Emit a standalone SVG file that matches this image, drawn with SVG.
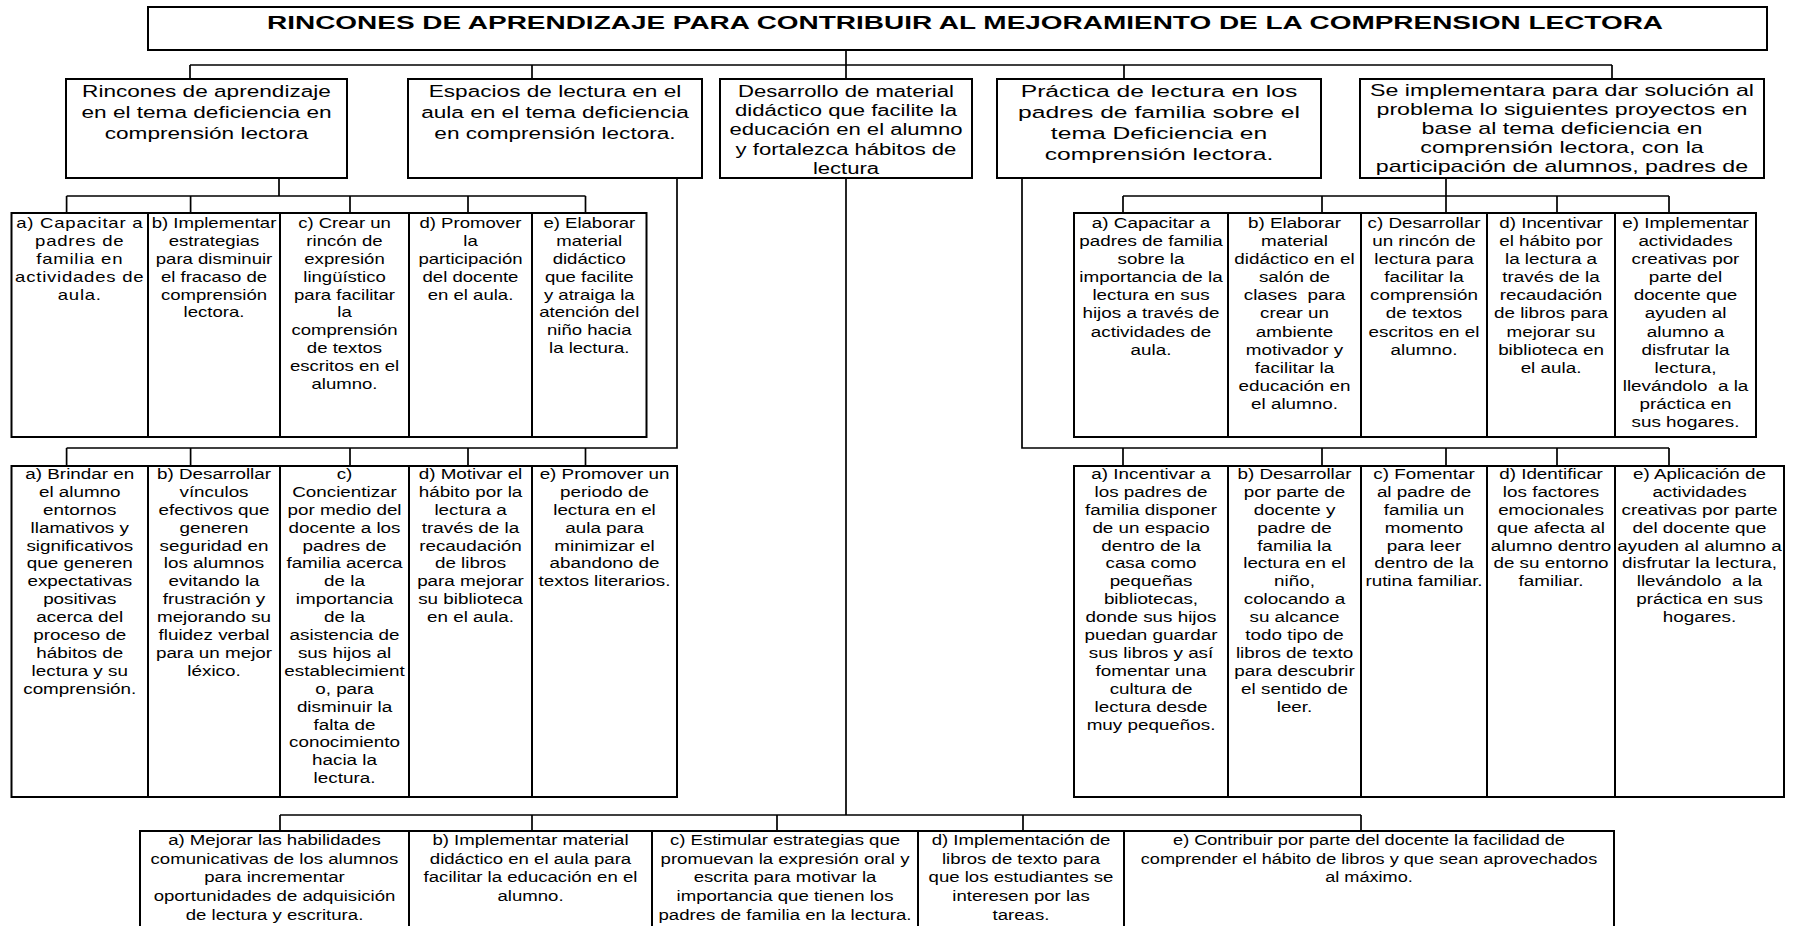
<svg xmlns="http://www.w3.org/2000/svg" width="1802" height="926" viewBox="0 0 1802 926">
<style>
.bg{fill:#fff}
.box{fill:#fff;stroke:#000;stroke-width:2}
.c{stroke:#000;stroke-width:1.7;fill:none}
.t{font-family:"Liberation Sans",Arial,sans-serif;fill:#000;text-anchor:middle}
.h{font-size:17px}
.m{font-size:16px}
.r{font-size:14.5px}
.b{font-size:15px}
.ttl{font-family:"Liberation Sans",Arial,sans-serif;font-weight:bold;font-size:18px;text-anchor:middle;fill:#000}
</style>
<rect class="bg" x="0" y="0" width="1802" height="926"/>
<g id="connectors">
<path class="c" d="M846 50V65M190 65H1612M190 65V79M532 65V79M846 65V79M1124 65V79M1612 65V79"/>
<path class="c" d="M279 178V196M66.6 196H585.5M66.6 196V213M190.6 196V213M350 196V213M468 196V213M585.5 196V213"/>
<path class="c" d="M677 178V448H66.6M66.6 448V466M190.6 448V466M350 448V466M468 448V466M585.5 448V466"/>
<path class="c" d="M1446 178V196M1123 196H1669M1123 196V213M1322 196V213M1446 196V213M1557 196V213M1669 196V213"/>
<path class="c" d="M1022 178V448H1669M1123 448V466M1322 448V466M1446 448V466M1557 448V466M1669 448V466"/>
<path class="c" d="M846 178V815M280 815H1361M280 815V831M532 815V831M777 815V831M1023 815V831M1361 815V831"/>
</g>
<g id="title">
<rect class="box" x="148" y="7" width="1619" height="43"/>
<text class="ttl" x="965" y="28.5" textLength="1396" lengthAdjust="spacingAndGlyphs">RINCONES DE APRENDIZAJE PARA CONTRIBUIR AL MEJORAMIENTO DE LA COMPRENSION LECTORA</text>
</g>
<g id="n1">
<rect class="box" x="66" y="79" width="281" height="99"/>
<text class="t h" transform="translate(206.5 97) scale(1.33 1)"><tspan x="0">Rincones de aprendizaje</tspan><tspan x="0" dy="21">en el tema deficiencia en</tspan><tspan x="0" dy="21">comprensión lectora</tspan></text>
</g>
<g id="n2">
<rect class="box" x="408" y="79" width="294" height="99"/>
<text class="t h" transform="translate(555 97) scale(1.33 1)"><tspan x="0">Espacios de lectura en el</tspan><tspan x="0" dy="21">aula en el tema deficiencia</tspan><tspan x="0" dy="21">en comprensión lectora.</tspan></text>
</g>
<g id="n3">
<rect class="box" x="720" y="79" width="252" height="99"/>
<text class="t m" transform="translate(846 96.5) scale(1.38 1)"><tspan x="0">Desarrollo de material</tspan><tspan x="0" dy="19.4">didáctico que facilite la</tspan><tspan x="0" dy="19.4">educación en el alumno</tspan><tspan x="0" dy="19.4">y fortalezca hábitos de</tspan><tspan x="0" dy="19.4">lectura</tspan></text>
</g>
<g id="n4">
<rect class="box" x="997" y="79" width="324" height="99"/>
<text class="t h" transform="translate(1159 97) scale(1.45 1)"><tspan x="0">Práctica de lectura en los</tspan><tspan x="0" dy="21">padres de familia sobre el</tspan><tspan x="0" dy="21">tema Deficiencia en</tspan><tspan x="0" dy="21">comprensión lectora.</tspan></text>
</g>
<g id="n5">
<rect class="box" x="1360" y="79" width="404" height="99"/>
<text class="t m" transform="translate(1562 95.5) scale(1.45 1)"><tspan x="0">Se implementara para dar solución al</tspan><tspan x="0" dy="19.2">problema lo siguientes proyectos en</tspan><tspan x="0" dy="19.2">base al tema deficiencia en</tspan><tspan x="0" dy="19.2">comprensión lectora, con la</tspan><tspan x="0" dy="19.2">participación de alumnos, padres de</tspan></text>
</g>
<g id="a1">
<rect class="box" x="11.5" y="213" width="136.5" height="224"/>
<text class="t r" transform="translate(79.75 228) scale(1.28 1)" letter-spacing="0.6"><tspan x="0">a) Capacitar a</tspan><tspan x="0" dy="17.9">padres de</tspan><tspan x="0" dy="17.9">familia en</tspan><tspan x="0" dy="17.9">actividades de</tspan><tspan x="0" dy="17.9">aula.</tspan></text>
</g>
<g id="a2">
<rect class="box" x="148" y="213" width="132" height="224"/>
<text class="t r" transform="translate(214 228) scale(1.28 1)"><tspan x="0">b) Implementar</tspan><tspan x="0" dy="17.9">estrategias</tspan><tspan x="0" dy="17.9">para disminuir</tspan><tspan x="0" dy="17.9">el fracaso de</tspan><tspan x="0" dy="17.9">comprensión</tspan><tspan x="0" dy="17.9">lectora.</tspan></text>
</g>
<g id="a3">
<rect class="box" x="280" y="213" width="129" height="224"/>
<text class="t r" transform="translate(344.5 228) scale(1.28 1)"><tspan x="0">c) Crear un</tspan><tspan x="0" dy="17.9">rincón de</tspan><tspan x="0" dy="17.9">expresión</tspan><tspan x="0" dy="17.9">lingüístico</tspan><tspan x="0" dy="17.9">para facilitar</tspan><tspan x="0" dy="17.9">la</tspan><tspan x="0" dy="17.9">comprensión</tspan><tspan x="0" dy="17.9">de textos</tspan><tspan x="0" dy="17.9">escritos en el</tspan><tspan x="0" dy="17.9">alumno.</tspan></text>
</g>
<g id="a4">
<rect class="box" x="409" y="213" width="123" height="224"/>
<text class="t r" transform="translate(470.5 228) scale(1.28 1)"><tspan x="0">d) Promover</tspan><tspan x="0" dy="17.9">la</tspan><tspan x="0" dy="17.9">participación</tspan><tspan x="0" dy="17.9">del docente</tspan><tspan x="0" dy="17.9">en el aula.</tspan></text>
</g>
<g id="a5">
<rect class="box" x="532" y="213" width="114.5" height="224"/>
<text class="t r" transform="translate(589.25 228) scale(1.28 1)"><tspan x="0">e) Elaborar</tspan><tspan x="0" dy="17.9">material</tspan><tspan x="0" dy="17.9">didáctico</tspan><tspan x="0" dy="17.9">que facilite</tspan><tspan x="0" dy="17.9">y atraiga la</tspan><tspan x="0" dy="17.9">atención del</tspan><tspan x="0" dy="17.9">niño hacia</tspan><tspan x="0" dy="17.9">la lectura.</tspan></text>
</g>
<g id="b1">
<rect class="box" x="1074" y="213" width="154" height="224"/>
<text class="t r" transform="translate(1151 228) scale(1.3 1)"><tspan x="0">a) Capacitar a</tspan><tspan x="0" dy="18.1">padres de familia</tspan><tspan x="0" dy="18.1">sobre la</tspan><tspan x="0" dy="18.1">importancia de la</tspan><tspan x="0" dy="18.1">lectura en sus</tspan><tspan x="0" dy="18.1">hijos a través de</tspan><tspan x="0" dy="18.1">actividades de</tspan><tspan x="0" dy="18.1">aula.</tspan></text>
</g>
<g id="b2">
<rect class="box" x="1228" y="213" width="133" height="224"/>
<text class="t r" transform="translate(1294.5 228) scale(1.3 1)"><tspan x="0">b) Elaborar</tspan><tspan x="0" dy="18.1">material</tspan><tspan x="0" dy="18.1">didáctico en el</tspan><tspan x="0" dy="18.1">salón de</tspan><tspan x="0" dy="18.1" xml:space="preserve">clases  para</tspan><tspan x="0" dy="18.1">crear un</tspan><tspan x="0" dy="18.1">ambiente</tspan><tspan x="0" dy="18.1">motivador y</tspan><tspan x="0" dy="18.1">facilitar la</tspan><tspan x="0" dy="18.1">educación en</tspan><tspan x="0" dy="18.1">el alumno.</tspan></text>
</g>
<g id="b3">
<rect class="box" x="1361" y="213" width="126" height="224"/>
<text class="t r" transform="translate(1424 228) scale(1.3 1)"><tspan x="0">c) Desarrollar</tspan><tspan x="0" dy="18.1">un rincón de</tspan><tspan x="0" dy="18.1">lectura para</tspan><tspan x="0" dy="18.1">facilitar la</tspan><tspan x="0" dy="18.1">comprensión</tspan><tspan x="0" dy="18.1">de textos</tspan><tspan x="0" dy="18.1">escritos en el</tspan><tspan x="0" dy="18.1">alumno.</tspan></text>
</g>
<g id="b4">
<rect class="box" x="1487" y="213" width="128" height="224"/>
<text class="t r" transform="translate(1551 228) scale(1.3 1)"><tspan x="0">d) Incentivar</tspan><tspan x="0" dy="18.1">el hábito por</tspan><tspan x="0" dy="18.1">la lectura a</tspan><tspan x="0" dy="18.1">través de la</tspan><tspan x="0" dy="18.1">recaudación</tspan><tspan x="0" dy="18.1">de libros para</tspan><tspan x="0" dy="18.1">mejorar su</tspan><tspan x="0" dy="18.1">biblioteca en</tspan><tspan x="0" dy="18.1">el aula.</tspan></text>
</g>
<g id="b5">
<rect class="box" x="1615" y="213" width="141" height="224"/>
<text class="t r" transform="translate(1685.5 228) scale(1.3 1)"><tspan x="0">e) Implementar</tspan><tspan x="0" dy="18.1">actividades</tspan><tspan x="0" dy="18.1">creativas por</tspan><tspan x="0" dy="18.1">parte del</tspan><tspan x="0" dy="18.1">docente que</tspan><tspan x="0" dy="18.1">ayuden al</tspan><tspan x="0" dy="18.1">alumno a</tspan><tspan x="0" dy="18.1">disfrutar la</tspan><tspan x="0" dy="18.1">lectura,</tspan><tspan x="0" dy="18.1" xml:space="preserve">llevándolo  a la</tspan><tspan x="0" dy="18.1">práctica en</tspan><tspan x="0" dy="18.1">sus hogares.</tspan></text>
</g>
<g id="c1">
<rect class="box" x="11.5" y="466" width="136.5" height="331"/>
<text class="t r" transform="translate(79.75 479) scale(1.3 1)"><tspan x="0">a) Brindar en</tspan><tspan x="0" dy="17.9">el alumno</tspan><tspan x="0" dy="17.9">entornos</tspan><tspan x="0" dy="17.9">llamativos y</tspan><tspan x="0" dy="17.9">significativos</tspan><tspan x="0" dy="17.9">que generen</tspan><tspan x="0" dy="17.9">expectativas</tspan><tspan x="0" dy="17.9">positivas</tspan><tspan x="0" dy="17.9">acerca del</tspan><tspan x="0" dy="17.9">proceso de</tspan><tspan x="0" dy="17.9">hábitos de</tspan><tspan x="0" dy="17.9">lectura y su</tspan><tspan x="0" dy="17.9">comprensión.</tspan></text>
</g>
<g id="c2">
<rect class="box" x="148" y="466" width="132" height="331"/>
<text class="t r" transform="translate(214 479) scale(1.3 1)"><tspan x="0">b) Desarrollar</tspan><tspan x="0" dy="17.9">vínculos</tspan><tspan x="0" dy="17.9">efectivos que</tspan><tspan x="0" dy="17.9">generen</tspan><tspan x="0" dy="17.9">seguridad en</tspan><tspan x="0" dy="17.9">los alumnos</tspan><tspan x="0" dy="17.9">evitando la</tspan><tspan x="0" dy="17.9">frustración y</tspan><tspan x="0" dy="17.9">mejorando su</tspan><tspan x="0" dy="17.9">fluidez verbal</tspan><tspan x="0" dy="17.9">para un mejor</tspan><tspan x="0" dy="17.9">léxico.</tspan></text>
</g>
<g id="c3">
<rect class="box" x="280" y="466" width="129" height="331"/>
<text class="t r" transform="translate(344.5 479) scale(1.3 1)"><tspan x="0">c)</tspan><tspan x="0" dy="17.9">Concientizar</tspan><tspan x="0" dy="17.9">por medio del</tspan><tspan x="0" dy="17.9">docente a los</tspan><tspan x="0" dy="17.9">padres de</tspan><tspan x="0" dy="17.9">familia acerca</tspan><tspan x="0" dy="17.9">de la</tspan><tspan x="0" dy="17.9">importancia</tspan><tspan x="0" dy="17.9">de la</tspan><tspan x="0" dy="17.9">asistencia de</tspan><tspan x="0" dy="17.9">sus hijos al</tspan><tspan x="0" dy="17.9">establecimient</tspan><tspan x="0" dy="17.9">o, para</tspan><tspan x="0" dy="17.9">disminuir la</tspan><tspan x="0" dy="17.9">falta de</tspan><tspan x="0" dy="17.9">conocimiento</tspan><tspan x="0" dy="17.9">hacia la</tspan><tspan x="0" dy="17.9">lectura.</tspan></text>
</g>
<g id="c4">
<rect class="box" x="409" y="466" width="123" height="331"/>
<text class="t r" transform="translate(470.5 479) scale(1.3 1)"><tspan x="0">d) Motivar el</tspan><tspan x="0" dy="17.9">hábito por la</tspan><tspan x="0" dy="17.9">lectura a</tspan><tspan x="0" dy="17.9">través de la</tspan><tspan x="0" dy="17.9">recaudación</tspan><tspan x="0" dy="17.9">de libros</tspan><tspan x="0" dy="17.9">para mejorar</tspan><tspan x="0" dy="17.9">su biblioteca</tspan><tspan x="0" dy="17.9">en el aula.</tspan></text>
</g>
<g id="c5">
<rect class="box" x="532" y="466" width="145" height="331"/>
<text class="t r" transform="translate(604.5 479) scale(1.3 1)"><tspan x="0">e) Promover un</tspan><tspan x="0" dy="17.9">periodo de</tspan><tspan x="0" dy="17.9">lectura en el</tspan><tspan x="0" dy="17.9">aula para</tspan><tspan x="0" dy="17.9">minimizar el</tspan><tspan x="0" dy="17.9">abandono de</tspan><tspan x="0" dy="17.9">textos literarios.</tspan></text>
</g>
<g id="d1">
<rect class="box" x="1074" y="466" width="154" height="331"/>
<text class="t r" transform="translate(1151 479) scale(1.3 1)"><tspan x="0">a) Incentivar a</tspan><tspan x="0" dy="17.9">los padres de</tspan><tspan x="0" dy="17.9">familia disponer</tspan><tspan x="0" dy="17.9">de un espacio</tspan><tspan x="0" dy="17.9">dentro de la</tspan><tspan x="0" dy="17.9">casa como</tspan><tspan x="0" dy="17.9">pequeñas</tspan><tspan x="0" dy="17.9">bibliotecas,</tspan><tspan x="0" dy="17.9">donde sus hijos</tspan><tspan x="0" dy="17.9">puedan guardar</tspan><tspan x="0" dy="17.9">sus libros y así</tspan><tspan x="0" dy="17.9">fomentar una</tspan><tspan x="0" dy="17.9">cultura de</tspan><tspan x="0" dy="17.9">lectura desde</tspan><tspan x="0" dy="17.9">muy pequeños.</tspan></text>
</g>
<g id="d2">
<rect class="box" x="1228" y="466" width="133" height="331"/>
<text class="t r" transform="translate(1294.5 479) scale(1.3 1)"><tspan x="0">b) Desarrollar</tspan><tspan x="0" dy="17.9">por parte de</tspan><tspan x="0" dy="17.9">docente y</tspan><tspan x="0" dy="17.9">padre de</tspan><tspan x="0" dy="17.9">familia la</tspan><tspan x="0" dy="17.9">lectura en el</tspan><tspan x="0" dy="17.9">niño,</tspan><tspan x="0" dy="17.9">colocando a</tspan><tspan x="0" dy="17.9">su alcance</tspan><tspan x="0" dy="17.9">todo tipo de</tspan><tspan x="0" dy="17.9">libros de texto</tspan><tspan x="0" dy="17.9">para descubrir</tspan><tspan x="0" dy="17.9">el sentido de</tspan><tspan x="0" dy="17.9">leer.</tspan></text>
</g>
<g id="d3">
<rect class="box" x="1361" y="466" width="126" height="331"/>
<text class="t r" transform="translate(1424 479) scale(1.3 1)"><tspan x="0">c) Fomentar</tspan><tspan x="0" dy="17.9">al padre de</tspan><tspan x="0" dy="17.9">familia un</tspan><tspan x="0" dy="17.9">momento</tspan><tspan x="0" dy="17.9">para leer</tspan><tspan x="0" dy="17.9">dentro de la</tspan><tspan x="0" dy="17.9">rutina familiar.</tspan></text>
</g>
<g id="d4">
<rect class="box" x="1487" y="466" width="128" height="331"/>
<text class="t r" transform="translate(1551 479) scale(1.3 1)"><tspan x="0">d) Identificar</tspan><tspan x="0" dy="17.9">los factores</tspan><tspan x="0" dy="17.9">emocionales</tspan><tspan x="0" dy="17.9">que afecta al</tspan><tspan x="0" dy="17.9">alumno dentro</tspan><tspan x="0" dy="17.9">de su entorno</tspan><tspan x="0" dy="17.9">familiar.</tspan></text>
</g>
<g id="d5">
<rect class="box" x="1615" y="466" width="169" height="331"/>
<text class="t r" transform="translate(1699.5 479) scale(1.3 1)"><tspan x="0">e) Aplicación de</tspan><tspan x="0" dy="17.9">actividades</tspan><tspan x="0" dy="17.9">creativas por parte</tspan><tspan x="0" dy="17.9">del docente que</tspan><tspan x="0" dy="17.9">ayuden al alumno a</tspan><tspan x="0" dy="17.9">disfrutar la lectura,</tspan><tspan x="0" dy="17.9" xml:space="preserve">llevándolo  a la</tspan><tspan x="0" dy="17.9">práctica en sus</tspan><tspan x="0" dy="17.9">hogares.</tspan></text>
</g>
<g id="e1">
<rect class="box" x="140" y="831" width="269" height="100"/>
<text class="t b" transform="translate(274.5 845) scale(1.24 1)"><tspan x="0">a) Mejorar las habilidades</tspan><tspan x="0" dy="18.7">comunicativas de los alumnos</tspan><tspan x="0" dy="18.7">para incrementar</tspan><tspan x="0" dy="18.7">oportunidades de adquisición</tspan><tspan x="0" dy="18.7">de lectura y escritura.</tspan></text>
</g>
<g id="e2">
<rect class="box" x="409" y="831" width="243" height="100"/>
<text class="t b" transform="translate(530.5 845) scale(1.24 1)"><tspan x="0">b) Implementar material</tspan><tspan x="0" dy="18.7">didáctico en el aula para</tspan><tspan x="0" dy="18.7">facilitar la educación en el</tspan><tspan x="0" dy="18.7">alumno.</tspan></text>
</g>
<g id="e3">
<rect class="box" x="652" y="831" width="266" height="100"/>
<text class="t b" transform="translate(785 845) scale(1.24 1)"><tspan x="0">c) Estimular estrategias que</tspan><tspan x="0" dy="18.7">promuevan la expresión oral y</tspan><tspan x="0" dy="18.7">escrita para motivar la</tspan><tspan x="0" dy="18.7">importancia que tienen los</tspan><tspan x="0" dy="18.7">padres de familia en la lectura.</tspan></text>
</g>
<g id="e4">
<rect class="box" x="918" y="831" width="206" height="100"/>
<text class="t b" transform="translate(1021 845) scale(1.24 1)"><tspan x="0">d) Implementación de</tspan><tspan x="0" dy="18.7">libros de texto para</tspan><tspan x="0" dy="18.7">que los estudiantes se</tspan><tspan x="0" dy="18.7">interesen por las</tspan><tspan x="0" dy="18.7">tareas.</tspan></text>
</g>
<g id="e5">
<rect class="box" x="1124" y="831" width="490" height="100"/>
<text class="t b" transform="translate(1369 845) scale(1.21 1)"><tspan x="0">e) Contribuir por parte del docente la facilidad de</tspan><tspan x="0" dy="18.7">comprender el hábito de libros y que sean aprovechados</tspan><tspan x="0" dy="18.7">al máximo.</tspan></text>
</g>
</svg>
